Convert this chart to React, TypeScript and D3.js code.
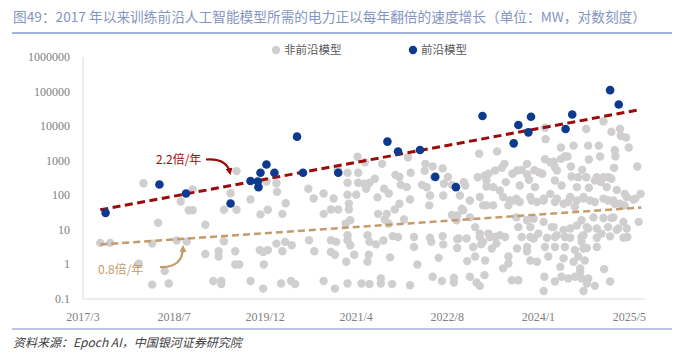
import { useEffect, useRef } from "react";
import * as d3 from "d3";

const TITLE = "图49：2017 年以来训练前沿人工智能模型所需的电力正以每年翻倍的速度增长（单位：MW，对数刻度）";
const SOURCE = "资料来源：Epoch AI，中国银河证券研究院";

// x axis: decimal years, ticks every 500 days starting 2017/3
const X_DOMAIN = [2017.18, 2025.635];
const TICK_YEARS = [2017.18, 2018.55, 2019.92, 2021.29, 2022.66, 2024.03, 2025.4];
const TICK_LABELS = ["2017/3", "2018/7", "2019/12", "2021/4", "2022/8", "2024/1", "2025/5"];
const Y_TICKS = [0.1, 1, 10, 100, 1000, 10000, 100000, 1000000];

const SERIES_NAMES = ["非前沿模型", "前沿模型"];

// frontier models [year, MW]
const FRONTIER: [number, number][] = [
  [2017.52, 31], [2018.33, 206], [2018.73, 113], [2019.4, 58], [2019.7, 260],
  [2019.81, 251], [2019.82, 172], [2019.85, 447], [2019.94, 775], [2020.06, 447],
  [2020.4, 4970], [2020.49, 447], [2021.02, 447], [2021.76, 3570], [2021.92, 1840],
  [2022.25, 2050], [2022.48, 340], [2022.79, 172], [2023.19, 19600], [2023.66, 3180],
  [2023.73, 10800], [2023.88, 6610], [2023.92, 18700], [2024.44, 8280], [2024.54, 21800],
  [2025.11, 110000], [2025.24, 42400],
];

// non-frontier models [year, MW]
const OTHER: [number, number][] = [
  [2017.44, 4.2], [2017.59, 4.2], [2018.02, 1.05], [2018.09, 224], [2018.22, 4.0], [2018.22, 0.26],
  [2018.31, 16], [2018.41, 0.64], [2018.47, 0.28], [2018.59, 4.9], [2018.65, 66], [2018.74, 4.6],
  [2018.77, 37], [2018.83, 37], [2018.83, 148], [2019.02, 14], [2019.02, 2.0], [2019.14, 0.33],
  [2019.22, 2.4], [2019.22, 1.7], [2019.26, 0.33], [2019.26, 0.27], [2019.3, 38], [2019.3, 4.7],
  [2019.4, 115], [2019.47, 2.4], [2019.47, 1.0], [2019.49, 500], [2019.49, 38], [2019.53, 1.0],
  [2019.7, 76], [2019.7, 0.33], [2019.84, 2.6], [2019.85, 28], [2019.89, 2.3], [2019.89, 0.2],
  [2019.9, 1.0], [2019.94, 251], [2019.96, 38], [2019.96, 2.6],
  [2020.09, 224], [2020.1, 127], [2020.09, 4.0], [2020.16, 0.28], [2020.18, 29], [2020.18, 2.4],
  [2020.22, 4.5], [2020.23, 59], [2020.31, 0.33], [2020.32, 3.6], [2020.37, 0.27], [2020.57, 155],
  [2020.58, 5.0], [2020.65, 81], [2020.66, 2.4], [2020.8, 113], [2020.8, 29], [2020.8, 0.33],
  [2020.91, 39], [2020.91, 5.0], [2020.91, 2.3], [2020.95, 81], [2020.97, 1.9], [2020.97, 0.2],
  [2020.99, 4.5], [2021.01, 545], [2021.02, 39], [2021.13, 15], [2021.14, 1.2], [2021.16, 447],
  [2021.16, 230], [2021.16, 104], [2021.16, 7.0], [2021.16, 5.0], [2021.16, 0.28], [2021.18, 57],
  [2021.18, 39], [2021.2, 19], [2021.2, 3.6], [2021.26, 1.9], [2021.29, 104], [2021.31, 1300],
  [2021.32, 447], [2021.32, 230], [2021.37, 0.28], [2021.41, 215], [2021.42, 900], [2021.44, 155],
  [2021.46, 7.0], [2021.46, 1.2], [2021.48, 1.9], [2021.49, 230], [2021.49, 4.5], [2021.49, 0.27],
  [2021.57, 300], [2021.59, 3.8], [2021.61, 87], [2021.62, 29], [2021.66, 0.39], [2021.66, 0.28],
  [2021.68, 812], [2021.7, 4.9], [2021.71, 155], [2021.72, 20], [2021.75, 29], [2021.78, 113],
  [2021.78, 15], [2021.8, 1.6], [2021.83, 0.27], [2021.84, 6.6], [2021.87, 39], [2021.88, 390],
  [2021.92, 6.2], [2021.94, 340], [2021.94, 57], [2021.96, 200], [2022.01, 20], [2022.05, 172],
  [2022.07, 1260], [2022.1, 76], [2022.1, 0.25], [2022.11, 447], [2022.16, 6.2], [2022.16, 3.2],
  [2022.21, 1.0], [2022.28, 200], [2022.32, 510], [2022.33, 812], [2022.35, 170], [2022.39, 51],
  [2022.4, 99], [2022.4, 5.9], [2022.42, 4.5], [2022.44, 679], [2022.44, 0.44], [2022.46, 340],
  [2022.53, 1.55], [2022.58, 0.33], [2022.59, 600], [2022.59, 6.6], [2022.6, 99], [2022.6, 3.8],
  [2022.61, 215], [2022.67, 340], [2022.73, 200], [2022.73, 27], [2022.76, 0.41], [2022.76, 0.3],
  [2022.81, 26], [2022.81, 5.4], [2022.81, 3.0], [2022.85, 99], [2022.8, 19], [2022.83, 5.6],
  [2022.88, 41], [2022.9, 37], [2022.91, 240], [2022.93, 192], [2022.95, 5.6], [2022.96, 1.25],
  [2023.0, 71], [2023.0, 23], [2023.0, 0.44], [2023.05, 3.2], [2023.08, 12], [2023.08, 1.7],
  [2023.1, 0.3], [2023.12, 334], [2023.14, 1600], [2023.15, 89], [2023.15, 7.8], [2023.15, 6.2],
  [2023.15, 0.24], [2023.17, 3.8], [2023.2, 51], [2023.2, 4.5], [2023.22, 370], [2023.22, 0.49],
  [2023.23, 1.3], [2023.25, 268], [2023.25, 180], [2023.25, 51], [2023.28, 420], [2023.28, 7.8],
  [2023.3, 6.2], [2023.33, 2.9], [2023.35, 172], [2023.35, 51], [2023.38, 520], [2023.38, 6.2],
  [2023.4, 4.0], [2023.41, 1840], [2023.45, 137], [2023.45, 7.0], [2023.48, 622], [2023.5, 89],
  [2023.5, 0.77], [2023.52, 812], [2023.53, 6.2], [2023.54, 240], [2023.58, 51], [2023.58, 1.7],
  [2023.58, 1.06], [2023.6, 71], [2023.63, 0.35], [2023.64, 420], [2023.66, 71], [2023.7, 80],
  [2023.7, 23], [2023.71, 520], [2023.71, 2.9], [2023.73, 12], [2023.73, 0.35], [2023.75, 192],
  [2023.75, 64], [2023.78, 545], [2023.78, 6.2], [2023.86, 812], [2023.86, 400], [2023.86, 19],
  [2023.86, 3.2], [2023.86, 2.4], [2023.89, 280], [2023.91, 89], [2023.91, 12], [2023.91, 6.2],
  [2023.91, 1.3], [2023.93, 71], [2023.96, 21], [2023.96, 5.6], [2023.97, 530], [2023.98, 172],
  [2024.01, 64], [2024.01, 1.2], [2024.03, 7.8], [2024.04, 460], [2024.09, 420], [2024.11, 80],
  [2024.11, 71], [2024.11, 17], [2024.11, 0.17], [2024.12, 0.44], [2024.13, 9000], [2024.13, 1100],
  [2024.13, 3.2], [2024.14, 4200], [2024.16, 5.9], [2024.18, 1.7], [2024.21, 900], [2024.21, 110],
  [2024.23, 12], [2024.26, 930], [2024.26, 12], [2024.28, 650], [2024.28, 268], [2024.28, 64],
  [2024.28, 6.2], [2024.28, 3.2], [2024.28, 0.32], [2024.31, 520], [2024.31, 80], [2024.31, 7.0],
  [2024.36, 0.85], [2024.37, 2400], [2024.37, 1130], [2024.38, 192], [2024.38, 0.44], [2024.41, 57],
  [2024.41, 10], [2024.41, 1.5], [2024.43, 1320], [2024.43, 6.2], [2024.43, 3.2], [2024.47, 1320],
  [2024.48, 64], [2024.48, 0.39], [2024.51, 89], [2024.51, 11], [2024.51, 5.9], [2024.52, 680],
  [2024.53, 350], [2024.56, 2730], [2024.56, 1.2], [2024.58, 46], [2024.58, 2.6], [2024.58, 0.44],
  [2024.61, 172], [2024.61, 71], [2024.61, 13.5], [2024.63, 334], [2024.63, 1.7], [2024.66, 0.77],
  [2024.66, 0.61], [2024.68, 19], [2024.68, 6.2], [2024.68, 4.5], [2024.68, 0.39], [2024.69, 545],
  [2024.71, 89], [2024.71, 80], [2024.71, 7.0], [2024.71, 2.9], [2024.71, 0.17], [2024.73, 1.3],
  [2024.75, 8300], [2024.75, 334], [2024.76, 12], [2024.76, 3.0], [2024.76, 0.28], [2024.78, 2730],
  [2024.78, 11], [2024.78, 0.39], [2024.79, 1080], [2024.79, 165], [2024.81, 71], [2024.86, 23],
  [2024.88, 268], [2024.88, 64], [2024.88, 0.24], [2024.91, 334], [2024.91, 11], [2024.91, 5.9],
  [2024.91, 3.2], [2024.94, 2730], [2024.96, 1320], [2024.97, 240], [2024.98, 7.8], [2025.01, 13700],
  [2025.01, 334], [2025.01, 80], [2025.01, 22], [2025.02, 0.73], [2025.06, 172], [2025.08, 334],
  [2025.08, 71], [2025.08, 12], [2025.11, 6.5], [2025.11, 0.32], [2025.13, 6900], [2025.13, 300],
  [2025.13, 22], [2025.16, 71], [2025.16, 23], [2025.17, 622], [2025.18, 2000], [2025.18, 57],
  [2025.19, 1350], [2025.21, 143], [2025.21, 10], [2025.23, 11], [2025.26, 8300], [2025.26, 57],
  [2025.27, 5300], [2025.31, 17], [2025.31, 5.9], [2025.33, 110], [2025.33, 51], [2025.35, 4700],
  [2025.36, 89], [2025.36, 11], [2025.37, 6.2], [2025.39, 2400], [2025.46, 75], [2025.49, 80],
  [2025.52, 680], [2025.54, 17], [2025.57, 110],
];

// fitted trends [year, MW]
const TREND_FRONTIER: [number, number][] = [[2017.44, 38], [2025.56, 30000]];
const TREND_OTHER: [number, number][] = [[2017.44, 3.8], [2025.58, 44]];
const TREND_LABELS = ["2.2倍/年", "0.8倍/年"];

const GREY = "#d0cece";
const BLUE = "#0d3a8e";
const RED = "#9c0a0a";
const TAN = "#c39b6c";
const AXIS_TEXT = "#808080";
const SERIF = "'Liberation Serif', 'Times New Roman', serif";
const CJK = "'Noto Sans CJK SC', sans-serif";

export default function App() {
  const svgRef = useRef<SVGSVGElement>(null);

  useEffect(() => {
    if (!svgRef.current) return;
    const svg = d3.select(svgRef.current);
    svg.selectAll("*").remove();

    const x = d3.scaleLinear().domain(X_DOMAIN).range([83, 645]);
    const y = d3.scaleLog().domain([0.1, 1e6]).range([299, 57]);

    const defs = svg.append("defs");
    const marker = (id: string, color: string) =>
      defs
        .append("marker")
        .attr("id", id)
        .attr("viewBox", "0 0 10 10")
        .attr("refX", 7)
        .attr("refY", 5)
        .attr("markerWidth", 7)
        .attr("markerHeight", 7)
        .attr("markerUnits", "userSpaceOnUse")
        .attr("orient", "auto")
        .append("path")
        .attr("d", "M0,0 L10,5 L0,10 z")
        .attr("fill", color);
    marker("arrow-red", RED);
    marker("arrow-tan", TAN);

    // Title
    svg
      .append("text")
      .attr("x", 13)
      .attr("y", 22)
      .attr("font-family", CJK)
      .attr("font-size", 13.7)
      .attr("fill", "#8595c2")
      .text(TITLE);
    svg
      .append("line")
      .attr("x1", 12)
      .attr("x2", 672)
      .attr("y1", 33)
      .attr("y2", 33)
      .attr("stroke", "#a3b3d8")
      .attr("stroke-width", 2);

    // Legend
    const legend = svg.append("g").attr("font-family", CJK).attr("font-size", 11.5).attr("fill", "#595959");
    [
      { name: SERIES_NAMES[0], color: GREY, cx: 276 },
      { name: SERIES_NAMES[1], color: BLUE, cx: 413 },
    ].forEach((l) => {
      legend.append("circle").attr("cx", l.cx).attr("cy", 50).attr("r", 4.2).attr("fill", l.color);
      legend.append("text").attr("x", l.cx + 8).attr("y", 54).text(l.name);
    });

    // Axes lines
    svg.append("line").attr("x1", 83).attr("x2", 83).attr("y1", 57).attr("y2", 299).attr("stroke", "#d9d9d9");
    svg.append("line").attr("x1", 83).attr("x2", 645).attr("y1", 299).attr("y2", 299).attr("stroke", "#d9d9d9");

    // Y tick labels
    svg
      .append("g")
      .selectAll("text")
      .data(Y_TICKS)
      .join("text")
      .attr("x", 70)
      .attr("y", (d) => y(d) + 4)
      .attr("text-anchor", "end")
      .attr("font-family", SERIF)
      .attr("font-size", 12)
      .attr("fill", AXIS_TEXT)
      .text((d) => String(d));

    // X tick labels
    svg
      .append("g")
      .selectAll("text")
      .data(TICK_YEARS)
      .join("text")
      .attr("x", (d) => x(d))
      .attr("y", 321)
      .attr("text-anchor", "middle")
      .attr("font-family", SERIF)
      .attr("font-size", 12)
      .attr("fill", AXIS_TEXT)
      .text((_, i) => TICK_LABELS[i]);

    // Non-frontier dots
    svg
      .append("g")
      .selectAll("circle")
      .data(OTHER)
      .join("circle")
      .attr("cx", (d) => x(d[0]))
      .attr("cy", (d) => y(d[1]))
      .attr("r", 4.2)
      .attr("fill", GREY);

    const line = d3
      .line<[number, number]>()
      .x((d) => x(d[0]))
      .y((d) => y(d[1]));

    svg
      .append("path")
      .datum(TREND_OTHER)
      .attr("d", line)
      .attr("fill", "none")
      .attr("stroke", TAN)
      .attr("stroke-width", 2.5)
      .attr("stroke-dasharray", "7,4");

    svg
      .append("path")
      .datum(TREND_FRONTIER)
      .attr("d", line)
      .attr("fill", "none")
      .attr("stroke", RED)
      .attr("stroke-width", 3)
      .attr("stroke-dasharray", "8,4.5");

    // Frontier dots
    svg
      .append("g")
      .selectAll("circle")
      .data(FRONTIER)
      .join("circle")
      .attr("cx", (d) => x(d[0]))
      .attr("cy", (d) => y(d[1]))
      .attr("r", 4.3)
      .attr("fill", BLUE);

    // Annotations
    svg
      .append("text")
      .attr("x", 156)
      .attr("y", 164)
      .attr("font-family", CJK)
      .attr("font-size", 12)
      .attr("fill", RED)
      .text(TREND_LABELS[0]);
    svg
      .append("path")
      .attr("d", "M206,159.5 Q227,158 230,173")
      .attr("fill", "none")
      .attr("stroke", RED)
      .attr("stroke-width", 2.2)
      .attr("marker-end", "url(#arrow-red)");

    svg
      .append("text")
      .attr("x", 98)
      .attr("y", 274)
      .attr("font-family", CJK)
      .attr("font-size", 12)
      .attr("fill", TAN)
      .text(TREND_LABELS[1]);
    svg
      .append("path")
      .attr("d", "M160,267 Q183,268 183,247")
      .attr("fill", "none")
      .attr("stroke", TAN)
      .attr("stroke-width", 2.2)
      .attr("marker-end", "url(#arrow-tan)");

    // Footer
    svg
      .append("line")
      .attr("x1", 12)
      .attr("x2", 672)
      .attr("y1", 329)
      .attr("y2", 329)
      .attr("stroke", "#a3b3d8")
      .attr("stroke-width", 1.5);
    svg
      .append("text")
      .attr("x", 13)
      .attr("y", 347)
      .attr("font-family", CJK)
      .attr("font-size", 12)
      .attr("font-style", "italic")
      .attr("fill", "#404040")
      .text(SOURCE);
  }, []);

  return (
    <div style={{ position: "fixed", left: 0, top: 0, background: "#fff" }}>
      <svg ref={svgRef} width={682} height={352} style={{ display: "block" }} />
    </div>
  );
}
